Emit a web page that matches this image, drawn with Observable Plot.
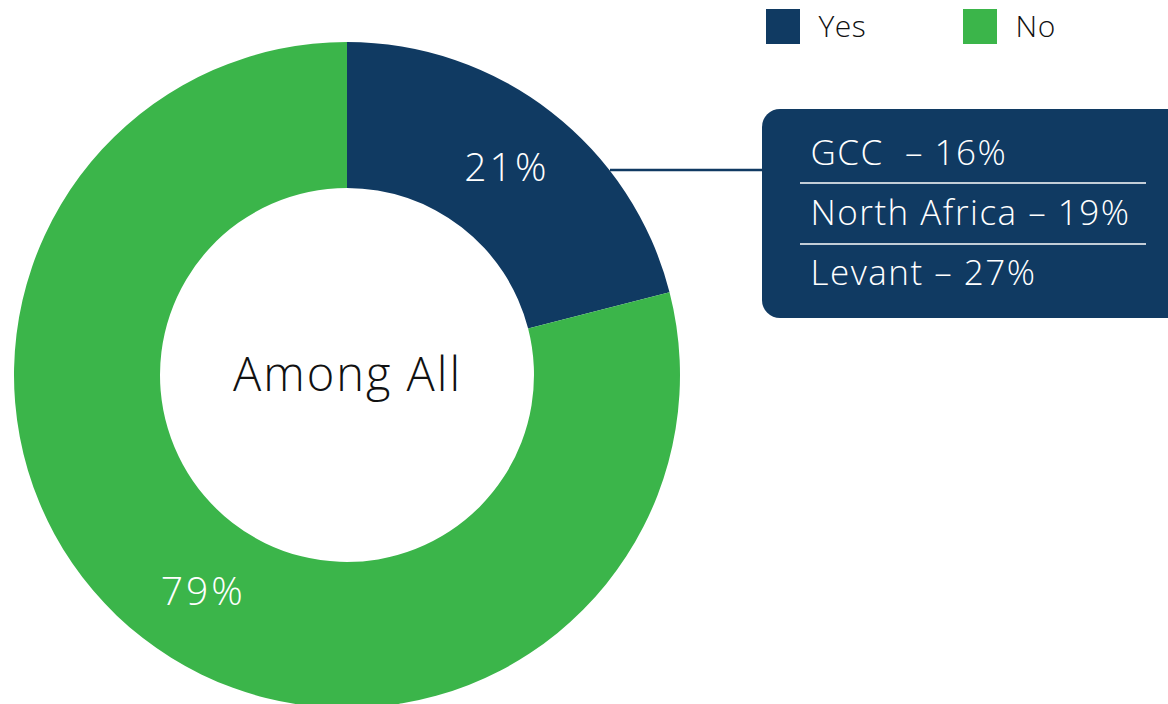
<!DOCTYPE html>
<html>
<head>
<meta charset="utf-8">
<script src="https://cdn.jsdelivr.net/npm/d3@7"></script>
<script src="https://cdn.jsdelivr.net/npm/@observablehq/plot@0.6"></script>
<style>
  html, body { margin: 0; padding: 0; background: #fff; }
  #chart { width: 1168px; height: 704px; overflow: hidden; }
</style>
</head>
<body>
<div id="chart"></div>
<script>
// ---- data ----
const categories = ["Yes", "No"];
const shares = [21, 79];
const colors = ["#103a62", "#3bb54a"];
const centerLabel = "Among All";
const regions = ["GCC ", "North Africa", "Levant"];
const regionShares = [16, 19, 27];

const slices = categories.map((c, i) => ({category: c, value: shares[i]}));
const regionRows = regions.map((r, i) => ({region: r, value: regionShares[i]}));

// ---- layout ----
const W = 1168, H = 704;
const CX = 347, CY = 375, R0 = 187, R1 = 333;
const FONT = "'Open Sans', 'Lato', sans-serif";
const labelNudge = [[0, -2], [15, 12]];

const pieGen = d3.pie().sort(null).value(d => d.value);
const arcs = pieGen(slices);
const arcGen = d3.arc().innerRadius(R0).outerRadius(R1);
const sliceLabels = arcs.map((a, i) => {
  const [x, y] = arcGen.centroid(a);
  return {x: CX + x + labelNudge[i][0], y: CY + y + labelNudge[i][1], text: `${a.data.value}%`};
});

const donut = (index, scales) => {
  const g = d3.create("svg:g").attr("transform", `translate(${CX},${CY})`);
  g.selectAll("path").data(arcs).join("path")
    .attr("d", arcGen)
    .attr("fill", d => scales.color(d.data.category));
  return g.node();
};

const box = {x: 762, y: 109, w: 440, h: 209, rx: 18};
const callout = () => {
  const g = d3.create("svg:g");
  g.append("line").attr("x1", 610).attr("x2", box.x + 2).attr("y1", 170).attr("y2", 170)
    .attr("stroke", colors[0]).attr("stroke-width", 2.5);
  g.append("rect").attr("x", box.x).attr("y", box.y).attr("width", box.w).attr("height", box.h)
    .attr("rx", box.rx).attr("fill", colors[0]);
  [183, 244].forEach(y => g.append("line").attr("x1", 800).attr("x2", 1146).attr("y1", y).attr("y2", y)
    .attr("stroke", "#ffffff").attr("stroke-width", 1.5));
  return g.node();
};

const legendItems = categories.map((c, i) => ({category: c, x: 766 + i * 197}));

const chart = Plot.plot({
  width: W, height: H, margin: 0,
  x: {type: "identity", axis: null},
  y: {type: "identity", axis: null},
  color: {domain: categories, range: colors},
  style: {fontFamily: FONT, background: "#fff"},
  marks: [
    donut,
    Plot.text(sliceLabels, {x: "x", y: "y", text: "text", fill: "#fff", fontSize: 39, fontWeight: 300,
      style: "letter-spacing:3px"}),
    Plot.text([centerLabel], {x: CX, y: CY, text: d => d, fill: "#111", fontSize: 47, fontWeight: 300}),
    callout,
    Plot.text(regionRows, {x: 810, y: (d, i) => 153 + i * 60, text: d => `${d.region} – ${d.value}%`,
      textAnchor: "start", fill: "#fff", fontSize: 35, fontWeight: 300}),
    Plot.rect(legendItems, {x1: "x", x2: d => d.x + 34, y1: 9, y2: 44, fill: "category"}),
    Plot.text(legendItems, {x: d => d.x + 52, y: 27, text: "category", textAnchor: "start",
      fill: "#111", fontSize: 30, fontWeight: 300})
  ]
});
d3.select(chart).selectAll("text").attr("letter-spacing", function() {
  const fs = +d3.select(this.closest("g")).attr("font-size") || 0;
  return fs >= 45 ? 2 : fs >= 38 ? 3 : fs >= 34 ? 1.5 : 0.5;
});
document.getElementById("chart").appendChild(chart);
</script>
</body>
</html>
